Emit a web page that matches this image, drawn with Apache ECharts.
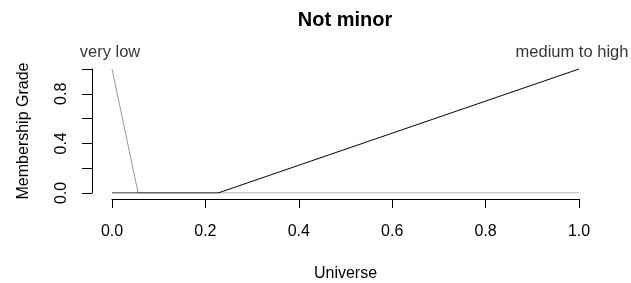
<!DOCTYPE html>
<html>
<head>
<meta charset="utf-8">
<script src="https://cdn.jsdelivr.net/npm/echarts@6/dist/echarts.min.js"></script>
<style>html,body{margin:0;padding:0;background:#fff}#c{width:631px;height:283px}</style>
</head>
<body>
<div id="c"></div>
<script>
var titleText = 'Not minor';
var xName = 'Universe';
var yName = 'Membership Grade';
var xTicks = [0, 0.2, 0.4, 0.6, 0.8, 1.0];
var yLabelShown = [0, 0.4, 0.8];
var veryLow = [[0, 1], [0.056, 0], [1, 0]];
var mediumToHigh = [[0, 0], [0.227, 0], [1, 1]];
var curveLabels = [
  {name: 'very low', value: [0, 1]},
  {name: 'medium to high', value: [1, 1]}
];
var FONT = '"Liberation Sans", Arial, sans-serif';
var chart = echarts.init(document.getElementById('c'), null, {renderer: 'canvas'});
chart.setOption({
  animation: false,
  backgroundColor: '#fff',
  graphic: [{
    type: 'text', x: 345, y: 20, z: 10,
    style: {text: titleText, align: 'center', verticalAlign: 'middle',
      font: 'bold 20px "Liberation Sans", Arial, sans-serif', fill: '#000'}
  }],
  grid: {left: 112, right: 52, top: 69, bottom: 90},
  xAxis: {
    type: 'value', min: 0, max: 1, interval: 0.2, offset: 6,
    name: xName, nameLocation: 'middle', nameGap: 67,
    nameTextStyle: {fontFamily: FONT, fontSize: 16, color: '#000'},
    axisLine: {show: true, onZero: false, lineStyle: {color: '#000', width: 1}},
    axisTick: {show: true, length: 9, lineStyle: {color: '#000'}},
    axisLabel: {fontFamily: FONT, fontSize: 16, color: '#000', margin: 25,
      formatter: function (v) { return v.toFixed(1); }},
    splitLine: {show: false}
  },
  yAxis: {
    type: 'value', min: 0, max: 1, interval: 0.2, offset: 20,
    name: yName, nameLocation: 'middle', nameGap: 60, nameRotate: 90,
    nameTextStyle: {fontFamily: FONT, fontSize: 16, color: '#000'},
    axisLine: {show: true, onZero: false, lineStyle: {color: '#000', width: 1}},
    axisTick: {show: true, length: 10, lineStyle: {color: '#000'}},
    axisLabel: {fontFamily: FONT, fontSize: 16, color: '#000', margin: 22, rotate: 90,
      formatter: function (v) {
        for (var i = 0; i < yLabelShown.length; i++) {
          if (Math.abs(yLabelShown[i] - v) < 1e-9) return v.toFixed(1);
        }
        return '';
      }},
    splitLine: {show: false}
  },
  series: [
    {type: 'line', data: veryLow, symbol: 'none', lineStyle: {color: '#9a9a9a', width: 1}, z: 2},
    {type: 'line', data: mediumToHigh, symbol: 'none', lineStyle: {color: '#000', width: 1}, z: 3},
    {type: 'scatter', data: curveLabels, symbolSize: 0, silent: true, z: 4,
      label: {show: true, position: 'top', distance: 8, fontFamily: FONT, fontSize: 16.5, color: '#000',
        formatter: function (p) { return p.name; }},
      labelLayout: function (p) {
        return p.dataIndex === 1 ? {dx: -7} : {dx: -2};
      }
    }
  ]
});
</script>
</body>
</html>
